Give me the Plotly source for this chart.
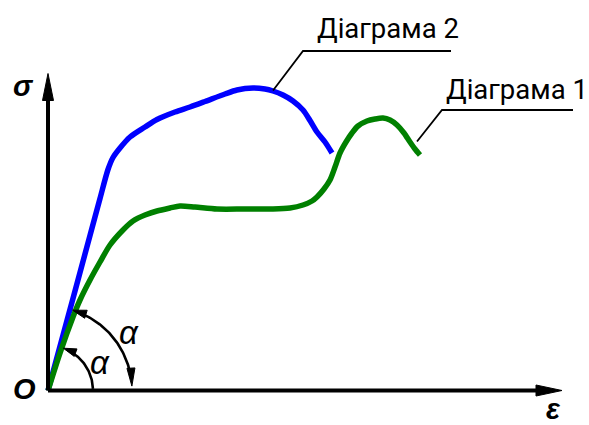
import numpy as np
import plotly.graph_objects as go

# ---- data (strain ε, stress σ in chart units; origin at axes corner) ----
eps_2 = [0, 19, 32, 42, 52, 60, 65, 72, 82, 97, 109, 127, 142, 157, 177, 189, 205, 217,
         225, 235, 245, 255, 262, 269, 277, 284]
sig_2 = [0, 70, 118, 155, 192, 221, 233, 242.5, 253.5, 263.5, 271, 278.5, 283.5,
         289, 296.5, 300.5, 302.5, 301.5, 299.5, 295.5, 289.5, 280.5, 270, 258.5, 248.5, 237.5]

eps_1 = [0, 12, 25, 32, 42, 52, 62, 75, 85, 97, 109, 122, 132, 147, 169, 197, 225, 242, 255,
         264, 269, 276, 282, 287, 292, 298, 304, 310, 319, 327, 335, 342, 349, 356, 362, 367, 372]
sig_1 = [0, 37.5, 73.5, 90.5, 110.5, 128.5, 145.5, 160.5, 169.5, 175.5, 179.5, 182.5, 184.5,
         183.5, 181.5, 181.5, 181.5, 182.5, 185.5, 189.5, 193.5, 201.5, 210.5, 223.5, 237.5,
         248.5, 257.5, 264.5, 269.5, 271.5, 272.5, 270.5, 265.5, 257.5, 248.5, 241.5, 235.5]

label_1 = "Діаграма 1"
label_2 = "Діаграма 2"

# ---- layout constants (pixel-like units) ----
W, H = 589, 425
OX, OY = 48, 390.5          # origin position in the picture
X_TIP, Y_TIP = 514, 317     # axis arrow tips
AX_W = 4

fig = go.Figure()

fig.add_trace(go.Scatter(x=eps_2, y=sig_2, mode="lines", line=dict(color="#0000FF", width=5.5, shape="spline", smoothing=0.8),
                         hoverinfo="skip", showlegend=False))
fig.add_trace(go.Scatter(x=eps_1, y=sig_1, mode="lines", line=dict(color="#008000", width=5.5, shape="spline", smoothing=0.8),
                         hoverinfo="skip", showlegend=False))

shapes = []
# axes
shapes.append(dict(type="line", x0=0, y0=0, x1=X_TIP - 20, y1=0, line=dict(color="black", width=AX_W)))
shapes.append(dict(type="line", x0=0, y0=0, x1=0, y1=Y_TIP - 20, line=dict(color="black", width=AX_W)))


def tri(tip, direction, length, half):
    d = np.array(direction, float)
    d /= np.linalg.norm(d)
    n = np.array([-d[1], d[0]])
    t = np.array(tip, float)
    b = t - d * length
    p1 = b + n * half
    p2 = b - n * half
    return f"M{t[0]:.2f},{t[1]:.2f} L{p1[0]:.2f},{p1[1]:.2f} L{p2[0]:.2f},{p2[1]:.2f} Z"


def add_tri(tip, direction, length, half):
    shapes.append(dict(type="path", path=tri(tip, direction, length, half),
                       fillcolor="black", line=dict(color="black", width=1)))


add_tri((X_TIP, 0), (1, 0), 26, 5.5)
add_tri((0, Y_TIP), (0, 1), 27, 5.5)

# angle arcs
def arc(r, a0, a1):
    a = np.radians(np.linspace(a0, a1, 60))
    return r * np.cos(a), r * np.sin(a)

ax1, ay1 = arc(45, 2, 66)
fig.add_trace(go.Scatter(x=ax1, y=ay1, mode="lines", line=dict(color="black", width=2.6),
                         hoverinfo="skip", showlegend=False))
a = np.radians(70)
add_tri((45 * np.cos(a), 45 * np.sin(a)), (-np.sin(a), np.cos(a)), 13, 4)

ax2, ay2 = arc(84, 9, 68)
fig.add_trace(go.Scatter(x=ax2, y=ay2, mode="lines", line=dict(color="black", width=2.6),
                         hoverinfo="skip", showlegend=False))
a = np.radians(73)
add_tri((84 * np.cos(a), 84 * np.sin(a)), (-np.sin(a), np.cos(a)), 14, 4.2)
a = np.radians(3)
add_tri((84 * np.cos(a), 84 * np.sin(a)), (np.sin(a), -np.cos(a)), 18, 4)

# leader lines
fig.add_trace(go.Scatter(x=[225, 255, 403], y=[300, 339.5, 339.5], mode="lines",
                         line=dict(color="black", width=1.8), hoverinfo="skip", showlegend=False))
fig.add_trace(go.Scatter(x=[369, 394, 525], y=[249, 280.5, 280.5], mode="lines",
                         line=dict(color="black", width=1.8), hoverinfo="skip", showlegend=False))

LBL_FONT = dict(family="Roboto, Liberation Sans, sans-serif", size=27.5, color="black")
SYM_FONT = dict(family="Liberation Sans, Arial, sans-serif", size=29, color="black")
ALPHA_FONT = dict(family="Liberation Sans, Arial, sans-serif", size=33, color="black")

annotations = [
    dict(x=340, y=362, text=label_2, font=LBL_FONT),
    dict(x=469, y=301, text=label_1, font=LBL_FONT),
    dict(x=-25, y=305, text="<b><i>σ</i></b>", font=SYM_FONT),
    dict(x=-24, y=2, text="<b><i>O</i></b>", font=SYM_FONT),
    dict(x=505, y=-18, text="<b><i>ε</i></b>", font=SYM_FONT),
    dict(x=52, y=28, text="<i>α</i>", font=ALPHA_FONT),
    dict(x=81, y=58, text="<i>α</i>", font=ALPHA_FONT),
]
for an in annotations:
    an.update(xref="x", yref="y", showarrow=False, xanchor="center", yanchor="middle")

fig.update_layout(
    width=W, height=H,
    margin=dict(l=0, r=0, t=0, b=0),
    paper_bgcolor="white", plot_bgcolor="white",
    xaxis=dict(range=[-OX, W - OX], visible=False, fixedrange=True),
    yaxis=dict(range=[OY - H, OY], visible=False, fixedrange=True),
    shapes=shapes, annotations=annotations, showlegend=False,
)

fig.write_html("out.html", config={"displayModeBar": False},
               post_script="document.body.style.margin='0';document.body.style.overflow='hidden';")
